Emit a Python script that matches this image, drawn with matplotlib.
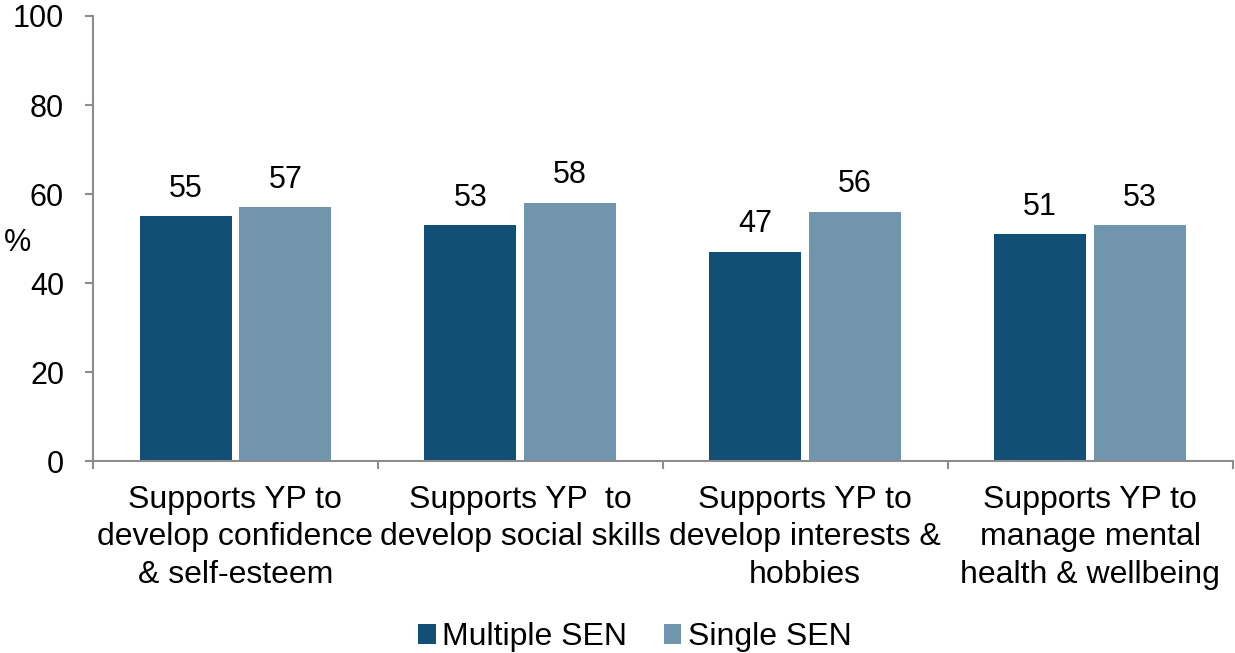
import matplotlib.pyplot as plt
import numpy as np

plt.rcParams['font.family'] = ['Liberation Sans', 'DejaVu Sans']

MULTI_COLOR = '#124f74'
SINGLE_COLOR = '#7295ae'
AXIS_GREY = '#8c8c8c'

categories = [
    'Supports YP to\ndevelop confidence\n& self-esteem',
    'Supports YP  to\ndevelop social skills',
    'Supports YP to\ndevelop interests &\nhobbies',
    'Supports YP to\nmanage mental\nhealth & wellbeing',
]
multiple_sen = [55, 53, 47, 51]
single_sen = [57, 58, 56, 53]

fig = plt.figure(figsize=(12.35, 6.53), dpi=100)
ax = fig.add_axes([0.0753, 0.294, 0.9227, 0.6815])

x = np.arange(len(categories))
w = 0.323
off = 0.175
b1 = ax.bar(x - off, multiple_sen, w, color=MULTI_COLOR, label='Multiple SEN')
b2 = ax.bar(x + off, single_sen, w, color=SINGLE_COLOR, label='Single SEN')
for bars in (b1, b2):
    ax.bar_label(bars, padding=9, fontsize=22)

ax.set_ylim(0, 100)
ax.set_xlim(-0.5, len(categories) - 0.5)
ax.set_yticks(range(0, 101, 20))
ax.set_xticks(x)
ax.set_xticklabels(categories, fontsize=23, linespacing=1.33)
# category boundaries get the visible ticks
ax.set_xticks(np.arange(-0.5, len(categories), 1), minor=True)
ax.tick_params(axis='x', which='major', length=0, pad=17)
ax.tick_params(axis='x', which='minor', length=5.8, width=1.5, color=AXIS_GREY)
ax.tick_params(axis='y', length=5.8, width=1.5, color=AXIS_GREY, labelsize=22, pad=15)

for s in ('top', 'right'):
    ax.spines[s].set_visible(False)
for s in ('left', 'bottom'):
    ax.spines[s].set_color(AXIS_GREY)
    ax.spines[s].set_linewidth(1.5)

ax.set_ylabel('%', rotation=0, fontsize=22)
ax.yaxis.set_label_coords(-0.066, 0.49)
ax.yaxis.label.set_verticalalignment('center')

fig.legend(loc='lower center', bbox_to_anchor=(0.514, -0.043), ncol=2, frameon=False,
           fontsize=23, handlelength=0.55, handleheight=0.55, handletextpad=0.2,
           columnspacing=1.15)

fig.savefig('out.png', dpi=100)
